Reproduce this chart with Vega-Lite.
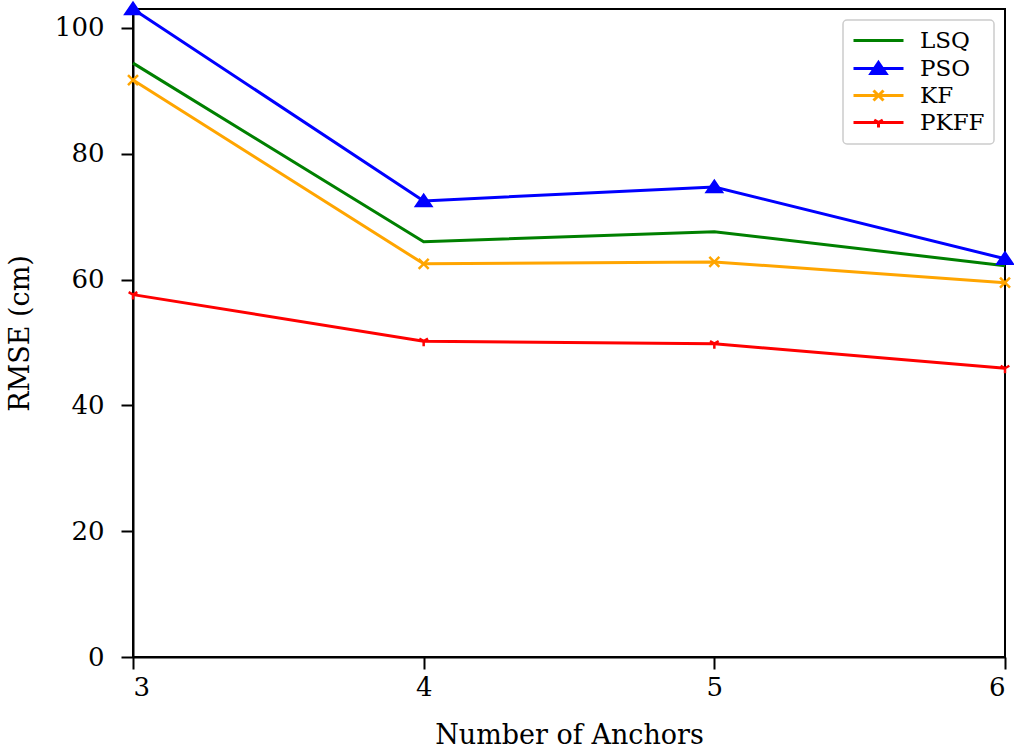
{
  "$schema": "https://vega.github.io/schema/vega-lite/v6.json",
  "autosize": {"type": "none"},
  "padding": {"left": 133, "top": 9, "right": 9, "bottom": 96},
  "width": 872,
  "height": 648,
  "background": "white",
  "data": {
    "values": [
      {"anchors": 3, "series": "LSQ", "rmse": 94.4},
      {"anchors": 4, "series": "LSQ", "rmse": 66.0},
      {"anchors": 5, "series": "LSQ", "rmse": 67.6},
      {"anchors": 6, "series": "LSQ", "rmse": 62.2},
      {"anchors": 3, "series": "PSO", "rmse": 103.0},
      {"anchors": 4, "series": "PSO", "rmse": 72.5},
      {"anchors": 5, "series": "PSO", "rmse": 74.7},
      {"anchors": 6, "series": "PSO", "rmse": 63.3},
      {"anchors": 3, "series": "KF", "rmse": 91.7},
      {"anchors": 4, "series": "KF", "rmse": 62.5},
      {"anchors": 5, "series": "KF", "rmse": 62.8},
      {"anchors": 6, "series": "KF", "rmse": 59.5},
      {"anchors": 3, "series": "PKFF", "rmse": 57.6},
      {"anchors": 4, "series": "PKFF", "rmse": 50.2},
      {"anchors": 5, "series": "PKFF", "rmse": 49.8},
      {"anchors": 6, "series": "PKFF", "rmse": 45.9}
    ]
  },
  "encoding": {
    "x": {
      "field": "anchors", "type": "quantitative",
      "scale": {"domain": [3, 6], "nice": false, "zero": false},
      "axis": {"values": [3, 4, 5, 6], "format": "d", "title": "Number of Anchors", "grid": false, "labelPadding": 5, "titlePadding": 22}
    },
    "y": {
      "field": "rmse", "type": "quantitative",
      "scale": {"domain": [0, 103], "nice": false, "zero": true},
      "axis": {"values": [0, 20, 40, 60, 80, 100], "title": "RMSE (cm)", "grid": false, "labelPadding": 17, "titlePadding": 20}
    },
    "color": {
      "field": "series", "type": "nominal",
      "scale": {"domain": ["LSQ", "PSO", "KF", "PKFF"], "range": ["#008000", "#0000ff", "#ffa500", "#ff0000"]},
      "legend": {
        "orient": "none", "legendX": 710, "legendY": 11, "title": null,
        "padding": 9, "strokeColor": "#cccccc", "cornerRadius": 4, "fillColor": "white",
        "labelFont": "DejaVu Serif", "labelFontSize": 23, "labelColor": "black",
        "symbolSize": 400, "symbolStrokeWidth": 3, "rowPadding": 3,
        "symbolOffset": 15, "labelOffset": 30,
        "encode": {
          "symbols": {
            "update": {
              "shape": {"signal": "datum.value === 'LSQ' ? 'M-2.5,0L2.5,0' : datum.value === 'PSO' ? 'M-2.5,0L2.5,0M0,-0.6L0.75,0.5L-0.75,0.5Z' : datum.value === 'KF' ? 'M-2.5,0L2.5,0M-0.5,-0.5L0.5,0.5M0.5,-0.5L-0.5,0.5' : 'M-2.5,0L2.5,0M0,0L0,0.5M0,0L-0.43,-0.25M0,0L0.43,-0.25'"},
              "fill": {"signal": "datum.value === 'PSO' ? '#0000ff' : 'transparent'"},
              "stroke": {"signal": "datum.value === 'LSQ' ? '#008000' : datum.value === 'PSO' ? '#0000ff' : datum.value === 'KF' ? '#ffa500' : '#ff0000'"},
              "strokeWidth": {"value": 3},
              "opacity": {"value": 1}
            }
          }
        }
      }
    }
  },
  "layer": [
    {
      "mark": {"type": "line", "strokeWidth": 3, "clip": false}
    },
    {
      "transform": [{"filter": "datum.series !== 'LSQ'"}],
      "mark": {"type": "point", "filled": true, "size": 100, "strokeWidth": 2.5, "opacity": 1, "clip": false},
      "encoding": {
        "shape": {
          "field": "series", "type": "nominal",
          "scale": {"domain": ["PSO", "KF", "PKFF"], "range": ["M0,-1.2L1.5,1L-1.5,1Z", "M-1,-1L1,1M1,-1L-1,1", "M0,0L0,1M0,0L-0.87,-0.5M0,0L0.87,-0.5"]},
          "legend": null
        },
        "stroke": {
          "field": "series", "type": "nominal",
          "scale": {"domain": ["PSO", "KF", "PKFF"], "range": ["#0000ff", "#ffa500", "#ff0000"]},
          "legend": null
        }
      }
    }
  ],
  "config": {
    "view": {"stroke": "black", "strokeWidth": 2},
    "font": "DejaVu Serif",
    "legend": {"strokeWidth": 1.5},
    "axis": {
      "domainColor": "black", "domainWidth": 2,
      "tickColor": "black", "tickWidth": 2, "tickSize": 12,
      "labelFont": "DejaVu Serif", "labelFontSize": 26, "labelColor": "black",
      "titleFont": "DejaVu Serif", "titleFontSize": 27, "titleFontWeight": "normal", "titleColor": "black"
    }
  }
}
